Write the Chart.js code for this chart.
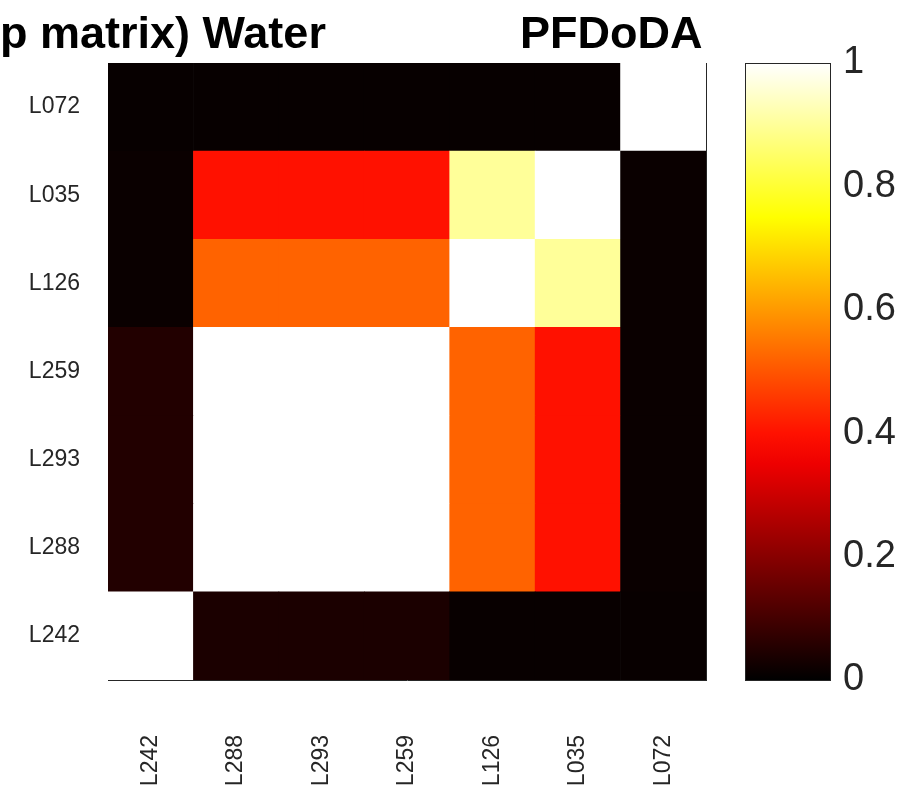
<!DOCTYPE html>
<html>
<head>
<meta charset="utf-8">
<script src="https://cdn.jsdelivr.net/npm/chart.js@4.4.1/dist/chart.umd.min.js"></script>
<style>
  html, body { margin: 0; padding: 0; background: #fff; }
  #wrap { position: relative; width: 918px; height: 796px; overflow: hidden; }
  canvas { position: absolute; left: 0; top: 0; }
</style>
</head>
<body>
<div id="wrap">
  <canvas id="heat" width="918" height="796"></canvas>
  <canvas id="barra" width="918" height="796"></canvas>
</div>
<script>
// row labels, top to bottom
const filas = ["L072", "L035", "L126", "L259", "L293", "L288", "L242"];
// column labels, left to right
const columnas = ["L242", "L288", "L293", "L259", "L126", "L035", "L072"];

// values per row (same order as filas)
const fL072 = [0.01, 0.01, 0.01, 0.01, 0.01, 0.01, 1.0];
const fL035 = [0.015, 0.4, 0.4, 0.4, 0.9, 1.0, 0.015];
const fL126 = [0.015, 0.52, 0.52, 0.52, 1.0, 0.9, 0.015];
const fL259 = [0.05, 1.0, 1.0, 1.0, 0.52, 0.4, 0.015];
const fL293 = [0.05, 1.0, 1.0, 1.0, 0.52, 0.4, 0.015];
const fL288 = [0.05, 1.0, 1.0, 1.0, 0.52, 0.4, 0.015];
const fL242 = [1.0, 0.04, 0.04, 0.04, 0.012, 0.012, 0.012];

const matriz = [fL072, fL035, fL126, fL259, fL293, fL288, fL242];

const ticksBarra = [0, 0.2, 0.4, 0.6, 0.8, 1];

const fuente = "'Liberation Sans', Arial, Helvetica, sans-serif";

// MATLAB "hot" colormap
function hot(v) {
  const r = Math.min(1, Math.max(0, v / 0.375));
  const g = Math.min(1, Math.max(0, (v - 0.375) / 0.375));
  const b = Math.min(1, Math.max(0, (v - 0.75) / 0.25));
  return `rgb(${Math.round(r * 255)},${Math.round(g * 255)},${Math.round(b * 255)})`;
}

// stacked bars: bottom row first
const datasets = filas
  .map((f, i) => ({
    label: f,
    data: columnas.map(() => 1),
    backgroundColor: matriz[i].map(hot),
    borderWidth: 0,
    categoryPercentage: 1,
    barPercentage: 1,
  }))
  .reverse();

const titulo = {
  id: "titulo",
  afterDraw(chart) {
    const c = chart.ctx;
    c.save();
    c.fillStyle = "#000";
    c.font = `bold 45px ${fuente}`;
    c.textBaseline = "alphabetic";
    c.textAlign = "left";
    c.fillText("p matrix) Water", 0, 48);
    c.fillText("PFDoDA", 520, 48);
    c.restore();
  },
};

const heat = new Chart(document.getElementById("heat"), {
  type: "bar",
  data: { labels: columnas, datasets: datasets },
  options: {
    responsive: false,
    animation: false,
    layout: { padding: { top: 63, right: 212, left: 0, bottom: 0 } },
    plugins: { legend: { display: false }, tooltip: { enabled: false } },
    scales: {
      x: {
        stacked: true,
        grid: { display: false, drawTicks: false },
        border: { display: true, color: "#262626", width: 1 },
        ticks: {
          minRotation: 90,
          maxRotation: 90,
          padding: 55,
          color: "#262626",
          font: { family: fuente, size: 23 },
        },
        afterFit: (s) => { s.height = 116; },
      },
      y: {
        stacked: true,
        min: 0,
        max: filas.length,
        grid: { display: false, drawTicks: false },
        border: { display: true, color: "#262626", width: 1 },
        afterBuildTicks: (s) => {
          s.ticks = filas.map((_, i) => ({ value: i + 0.5 }));
        },
        ticks: {
          padding: 28,
          color: "#262626",
          font: { family: fuente, size: 23 },
          callback: (v) => filas[filas.length - 1 - Math.floor(v)],
        },
        afterFit: (s) => { s.width = 108; },
      },
      yr: {
        position: "right",
        min: 0,
        max: filas.length,
        grid: { display: false, drawTicks: false },
        border: { display: true, color: "#262626", width: 1 },
        ticks: { display: false },
        afterFit: (s) => { s.width = 0; },
      },
    },
  },
  plugins: [titulo],
});

const marco = {
  id: "marco",
  afterDatasetsDraw(chart) {
    const a = chart.chartArea;
    const c = chart.ctx;
    c.save();
    c.strokeStyle = "#262626";
    c.lineWidth = 1;
    c.strokeRect(Math.round(a.left) + 0.5, Math.round(a.top) + 0.5,
      Math.round(a.right - a.left), Math.round(a.bottom - a.top));
    c.restore();
  },
};

const barra = new Chart(document.getElementById("barra"), {
  type: "bar",
  data: {
    labels: ["c"],
    datasets: [
      {
        data: [1],
        borderWidth: 0,
        categoryPercentage: 1,
        barPercentage: 1,
        backgroundColor: (ctx) => {
          const a = ctx.chart.chartArea;
          if (!a) return "#000";
          const g = ctx.chart.ctx.createLinearGradient(0, a.bottom, 0, a.top);
          for (let k = 0; k <= 20; k++) g.addColorStop(k / 20, hot(k / 20));
          return g;
        },
      },
    ],
  },
  options: {
    responsive: false,
    animation: false,
    layout: { padding: { top: 63, right: 0, left: 745, bottom: 116 } },
    plugins: { legend: { display: false }, tooltip: { enabled: false } },
    scales: {
      x: { display: false },
      y: {
        position: "right",
        min: 0,
        max: 1,
        grid: { display: false, drawTicks: false },
        border: { display: false },
        afterBuildTicks: (s) => {
          s.ticks = ticksBarra.map((v) => ({ value: v }));
        },
        ticks: {
          padding: 13,
          color: "#262626",
          font: { family: fuente, size: 38 },
          callback: (v) => String(Math.round(v * 10) / 10),
        },
        afterFit: (s) => { s.width = 88; },
      },
    },
  },
  plugins: [marco],
});
</script>
</body>
</html>
